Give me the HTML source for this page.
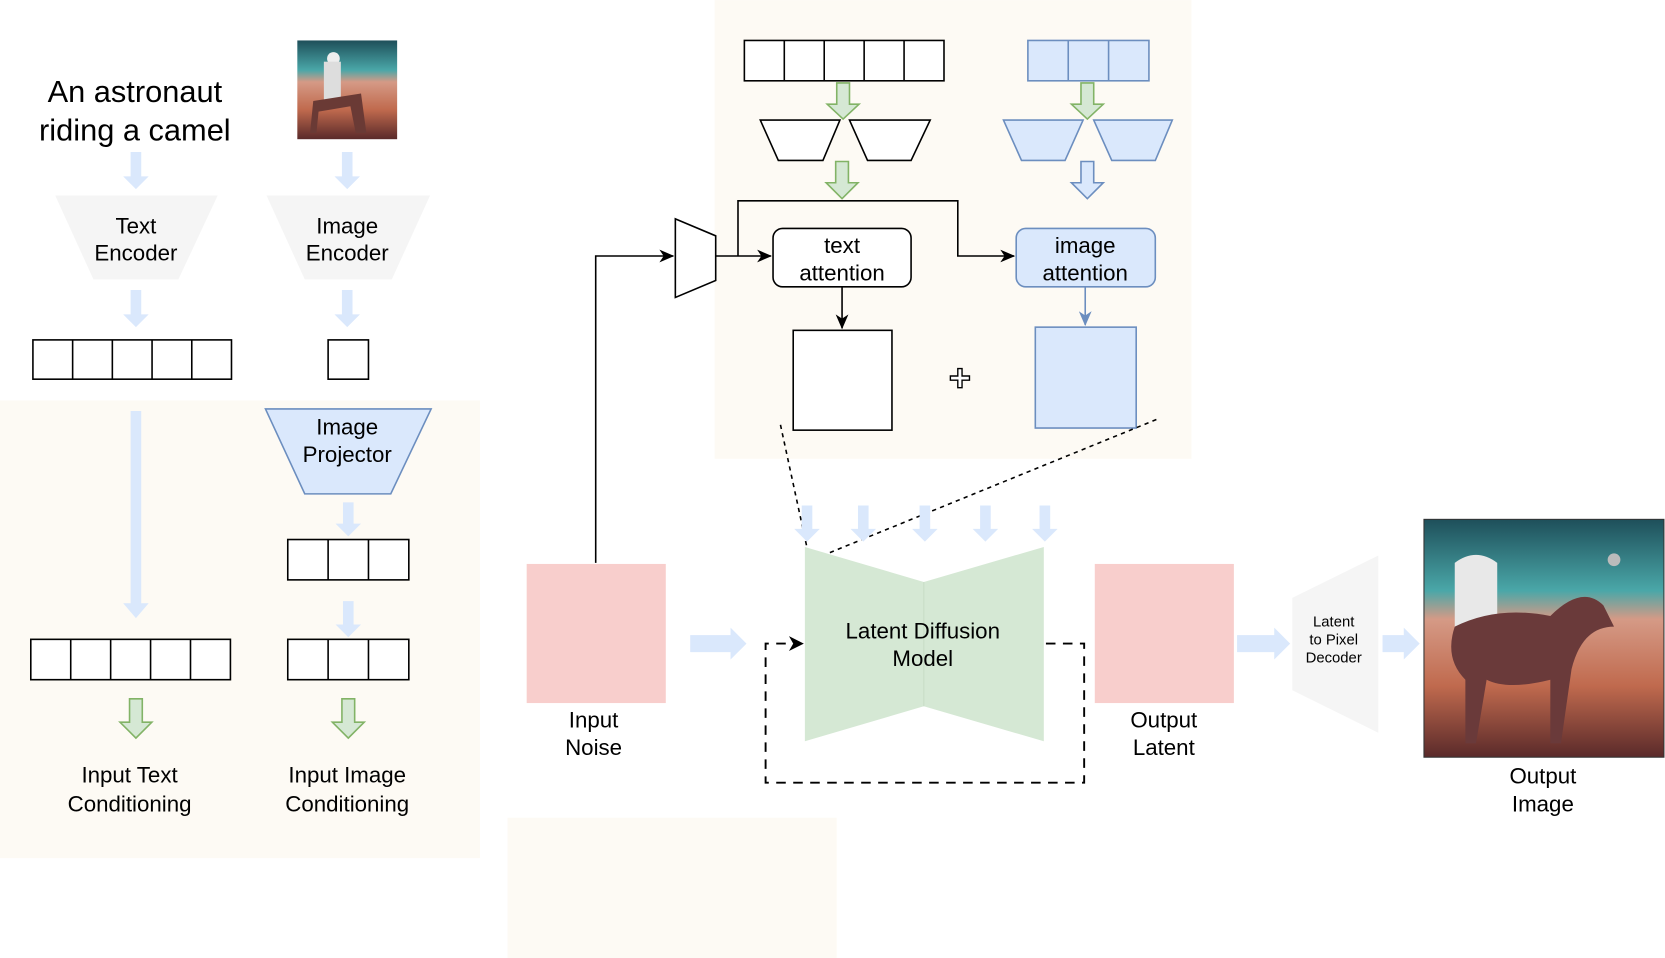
<!DOCTYPE html>
<html><head><meta charset="utf-8"><style>
html,body{margin:0;padding:0;background:#fff;}
svg{display:block;}
text{font-family:"Liberation Sans",Arial,sans-serif;fill:#000;}
</style></head><body>
<svg width="1665" height="958" viewBox="0 0 1568 902" xmlns="http://www.w3.org/2000/svg">
<defs>
<linearGradient id="sky" x1="0" y1="0" x2="0" y2="1">
<stop offset="0" stop-color="#1e4f5a"/><stop offset="0.3" stop-color="#4aa7a8"/><stop offset="0.42" stop-color="#d59a86"/><stop offset="0.7" stop-color="#c06a4e"/><stop offset="1" stop-color="#5a2a2a"/>
</linearGradient>
<marker id="ah" markerWidth="14" markerHeight="12" refX="13" refY="6" orient="auto" markerUnits="userSpaceOnUse"><path d="M0,0 L14,6 L0,12 L4,6 Z" fill="#000"/></marker>
<marker id="ahb" markerWidth="14" markerHeight="12" refX="13" refY="6" orient="auto" markerUnits="userSpaceOnUse"><path d="M0,0 L14,6 L0,12 L4,6 Z" fill="#6c8ebf"/></marker>
</defs>
<rect x="0" y="377" width="452" height="431" fill="#fdfaf4"/>
<rect x="673" y="0" width="449" height="432" fill="#fdfaf4"/>
<rect x="478" y="770" width="310" height="132" fill="#fdfaf4"/>

<text x="127" y="96" font-size="29" text-anchor="middle">An astronaut</text>
<text x="127" y="132" font-size="29" text-anchor="middle">riding a camel</text>
<rect x="280" y="38" width="94" height="93" fill="url(#sky)"/>
<circle cx="314" cy="55" r="6" fill="#eee"/><rect x="305" y="58" width="16" height="40" fill="#ddd"/><path d="M295,95 L340,88 L345,125 L335,125 L330,100 L300,105 L298,125 L292,125Z" fill="#6a3a35"/>

<g fill="#dae8fc">
<polygon points="123,143 133,143 133,166 140,166 128,178 116,166 123,166"/>
<polygon points="322,143 332,143 332,166 339,166 327,178 315,166 322,166"/>
<polygon points="123,273 133,273 133,296 140,296 128,308 116,296 123,296"/>
<polygon points="322,273 332,273 332,296 339,296 327,308 315,296 322,296"/>
<polygon points="123,387 133,387 133,568 140,568 128,582 116,568 123,568"/>
<polygon points="323,473 333,473 333,493 340,493 328,505 316,493 323,493"/>
<polygon points="323,566 333,566 333,588 340,588 328,600 316,588 323,588"/>
</g>
<polygon points="52,184 205,184 168,263 88,263" fill="#f5f5f5"/>
<text x="128" y="220" font-size="21" text-anchor="middle">Text</text>
<text x="128" y="245" font-size="21" text-anchor="middle">Encoder</text>
<polygon points="251,184 405,184 369,263 287,263" fill="#f5f5f5"/>
<text x="327" y="220" font-size="21" text-anchor="middle">Image</text>
<text x="327" y="245" font-size="21" text-anchor="middle">Encoder</text>

<g fill="#fff" stroke="#000" stroke-width="1.5">
<rect x="31" y="320" width="187" height="37"/>
<line x1="68.4" y1="320" x2="68.4" y2="357"/><line x1="105.8" y1="320" x2="105.8" y2="357"/><line x1="143.2" y1="320" x2="143.2" y2="357"/><line x1="180.6" y1="320" x2="180.6" y2="357"/>
<rect x="309" y="320" width="38" height="37"/>
<rect x="271" y="508" width="114" height="38"/><line x1="309" y1="508" x2="309" y2="546"/><line x1="347" y1="508" x2="347" y2="546"/>
<rect x="271" y="602" width="114" height="38"/><line x1="309" y1="602" x2="309" y2="640"/><line x1="347" y1="602" x2="347" y2="640"/>
<rect x="29" y="602" width="188" height="38"/>
<line x1="66.6" y1="602" x2="66.6" y2="640"/><line x1="104.2" y1="602" x2="104.2" y2="640"/><line x1="141.8" y1="602" x2="141.8" y2="640"/><line x1="179.4" y1="602" x2="179.4" y2="640"/>
</g>
<polygon points="250,385 406,385 368,465 287,465" fill="#dae8fc" stroke="#6c8ebf" stroke-width="1.5"/>
<text x="327" y="409" font-size="21" text-anchor="middle">Image</text>
<text x="327" y="435" font-size="21" text-anchor="middle">Projector</text>
<g fill="#d5e8d4" stroke="#82b366" stroke-width="1.5">
<polygon points="122,658 134,658 134,680 143,680 128,695 113,680 122,680"/>
<polygon points="322,658 334,658 334,680 343,680 328,695 313,680 322,680"/>
<polygon points="788,78 800,78 800,98 809,98 794,112 779,98 788,98"/>
<polygon points="787,152 799,152 799,172 808,172 793,187 778,172 787,172"/>
<polygon points="1018,78 1030,78 1030,98 1039,98 1024,112 1009,98 1018,98"/>
</g>
<text x="122" y="737" font-size="21" text-anchor="middle">Input Text</text>
<text x="122" y="764" font-size="21" text-anchor="middle">Conditioning</text>
<text x="327" y="737" font-size="21" text-anchor="middle">Input Image</text>
<text x="327" y="764" font-size="21" text-anchor="middle">Conditioning</text>

<g fill="#fff" stroke="#000" stroke-width="1.5">
<rect x="701" y="38" width="188" height="38"/>
<line x1="738.6" y1="38" x2="738.6" y2="76"/><line x1="776.2" y1="38" x2="776.2" y2="76"/><line x1="813.8" y1="38" x2="813.8" y2="76"/><line x1="851.4" y1="38" x2="851.4" y2="76"/>
<polygon points="716,113 791,113 775,151 733,151"/>
<polygon points="800,113 876,113 858,151 817,151"/>
</g>
<g fill="#dae8fc" stroke="#6c8ebf" stroke-width="1.5">
<rect x="968" y="38" width="114" height="38"/><line x1="1006" y1="38" x2="1006" y2="76"/><line x1="1044" y1="38" x2="1044" y2="76"/>
<polygon points="945,113 1020,113 1003,151 962,151"/>
<polygon points="1030,113 1104,113 1088,151 1047,151"/>
<polygon points="1018,152 1030,152 1030,172 1039,172 1024,187 1009,172 1018,172"/>
</g>
<polygon points="636,206 674,222 674,264 636,280" fill="#fff" stroke="#000" stroke-width="1.5"/>
<g fill="none" stroke="#000" stroke-width="1.5">
<polyline points="561,530 561,241 634,241" marker-end="url(#ah)"/>
<line x1="674" y1="241" x2="726" y2="241" marker-end="url(#ah)"/>
<polyline points="695,241 695,189 902,189 902,241 955,241" marker-end="url(#ah)"/>
<line x1="793" y1="270" x2="793" y2="309" marker-end="url(#ah)"/>
</g>
<line x1="1022" y1="270" x2="1022" y2="306" stroke="#6c8ebf" stroke-width="1.5" marker-end="url(#ahb)"/>
<rect x="728" y="215" width="130" height="55" rx="9" fill="#fff" stroke="#000" stroke-width="1.5"/>
<text x="793" y="238" font-size="21" text-anchor="middle">text</text>
<text x="793" y="264" font-size="21" text-anchor="middle">attention</text>
<rect x="957" y="215" width="131" height="55" rx="9" fill="#dae8fc" stroke="#6c8ebf" stroke-width="1.5"/>
<text x="1022" y="238" font-size="21" text-anchor="middle">image</text>
<text x="1022" y="264" font-size="21" text-anchor="middle">attention</text>
<rect x="747" y="311" width="93" height="94" fill="#fff" stroke="#000" stroke-width="1.5"/>
<rect x="975" y="308" width="95" height="95" fill="#dae8fc" stroke="#6c8ebf" stroke-width="1.5"/>
<path d="M902,347 h4 v7 h7 v4 h-7 v7 h-4 v-7 h-7 v-4 h7 z" fill="#fff" stroke="#000" stroke-width="1.3"/>
<g stroke="#000" stroke-width="1.5" stroke-dasharray="4,4" fill="none">
<line x1="735" y1="400" x2="762" y2="525"/>
<line x1="1089" y1="395" x2="770" y2="525"/>
</g>

<g fill="#dae8fc">
<polygon points="755,476 765,476 765,498 772,498 760,510 748,498 755,498"/>
<polygon points="808,476 818,476 818,498 825,498 813,510 801,498 808,498"/>
<polygon points="866,476 876,476 876,498 883,498 871,510 859,498 866,498"/>
<polygon points="923,476 933,476 933,498 940,498 928,510 916,498 923,498"/>
<polygon points="979,476 989,476 989,498 996,498 984,510 972,498 979,498"/>
<polygon points="650,598 688,598 688,591 703,606 688,621 688,614 650,614"/>
<polygon points="1165,598 1200,598 1200,591 1215,606 1200,621 1200,614 1165,614"/>
<polygon points="1302,598 1322,598 1322,591 1337,606 1322,621 1322,614 1302,614"/>
</g>
<polygon points="758,515 870,548 983,515 983,698 870,665 758,698" fill="#d5e8d4"/>
<line x1="870" y1="548" x2="870" y2="665" stroke="#c8dcc6" stroke-width="1"/>
<text x="869" y="601" font-size="21" text-anchor="middle">Latent Diffusion</text>
<text x="869" y="627" font-size="21" text-anchor="middle">Model</text>
<rect x="496" y="531" width="131" height="131" fill="#f8cecc"/>
<text x="559" y="685" font-size="21" text-anchor="middle">Input</text>
<text x="559" y="711" font-size="21" text-anchor="middle">Noise</text>
<g fill="none" stroke="#000" stroke-width="1.8" stroke-dasharray="9,7">
<polyline points="985,606 1021,606 1021,737 721,737 721,606 745,606"/>
</g>
<path d="M743,599 L757,606 L743,613 L747,606Z" fill="#000"/>
<rect x="1031" y="531" width="131" height="131" fill="#f8cecc"/>
<text x="1096" y="685" font-size="21" text-anchor="middle">Output</text>
<text x="1096" y="711" font-size="21" text-anchor="middle">Latent</text>
<polygon points="1217,563 1298,523 1298,690 1217,650" fill="#f5f5f5"/>
<text x="1256" y="590" font-size="14" text-anchor="middle">Latent</text>
<text x="1256" y="607" font-size="14" text-anchor="middle">to Pixel</text>
<text x="1256" y="624" font-size="14" text-anchor="middle">Decoder</text>
<rect x="1341" y="489" width="226" height="224" fill="url(#sky)" stroke="#333" stroke-width="1"/>
<circle cx="1520" cy="527" r="6" fill="#bbb"/>
<path d="M1370,530 q20,-15 40,0 v70 h-40z" fill="#e8e8e8"/>
<path d="M1370,590 q40,-20 90,-10 q30,-30 50,-10 l10,20 q-30,0 -40,40 l-10,70 h-10 l0,-60 q-40,10 -60,0 l-10,60 h-10 l0,-60 q-20,-20 -10,-50z" fill="#6a3a3a"/>
<text x="1453" y="738" font-size="21" text-anchor="middle">Output</text>
<text x="1453" y="764" font-size="21" text-anchor="middle">Image</text>
</svg>
</body></html>
